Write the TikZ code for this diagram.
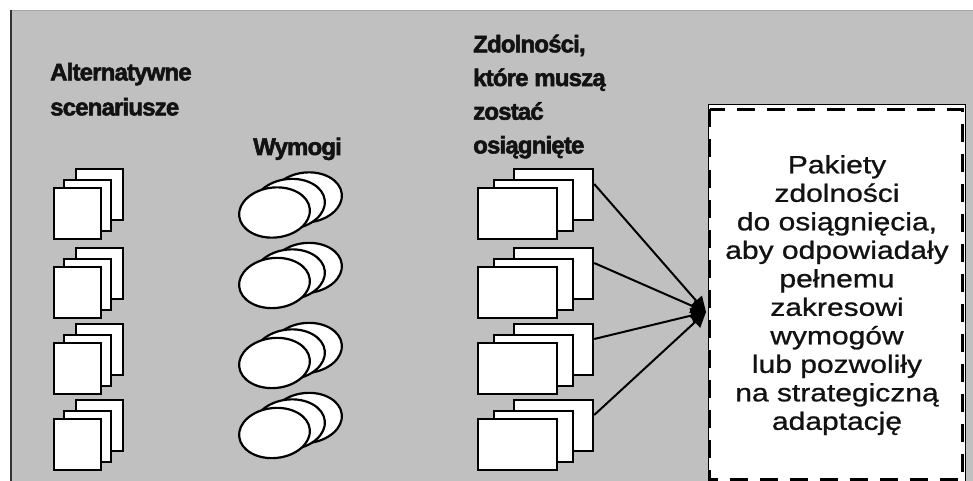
\documentclass[tikz,border=0pt]{standalone}
\usepackage{fontspec}
\setmainfont{Liberation Sans}
\newfontfamily\heavyfont[FakeBold=2.2,LetterSpace=-3.5]{Liberation Sans Bold}
\newfontfamily\boxfont[FakeBold=0.8]{Liberation Sans}
\usetikzlibrary{arrows.meta,shapes.geometric}
\definecolor{bggrey}{HTML}{C0C0C0}
\begin{document}
\begin{tikzpicture}[x=1pt,y=-1pt,
  shp/.style={draw=black, line width=2.2pt, fill=white, inner sep=0pt},
  sq/.style={shp, minimum width=47pt, minimum height=51pt, anchor=north west},
  rc/.style={shp, minimum width=79pt, minimum height=51pt, anchor=north west},
  el/.style={shp, ellipse, minimum width=71pt, minimum height=50pt, rotate=6},
  lbl/.style={font=\fontsize{24}{35}\selectfont\heavyfont, align=left, inner sep=0pt, text=black!93},
  conn/.style={line width=2pt, -{Triangle[length=15pt,width=15pt]}}
]
\useasboundingbox (0,0) rectangle (973,481);
\fill[white] (0,0) rectangle (973,481);
\fill[bggrey] (10,10) rectangle (973,481);
\draw[line width=0.8pt, color=black!35] (10,10.5) -- (973,10.5);
\draw[line width=2pt, color=black!80] (11,10) -- (11,481);

% labels
\node[lbl, anchor=north west] (lalt) at (50,62.8) {Alternatywne\\scenariusze};
\node[lbl, anchor=base west] (lwym) at (253,155) {Wymogi};
\node[lbl, anchor=north west, font=\fontsize{24}{33.7}\selectfont\heavyfont] (lzd) at (473,34.5) {Zdolności,\\które muszą\\zostać\\osiągnięte};

% squares
\foreach \y [count=\i] in {187,266,342,418} {
  \node[sq] (sC\i) at (75,\y-19) {};
  \node[sq] (sB\i) at (63,\y-8) {};
  \node[sq] (sA\i) at (53,\y) {};
}
% ellipses
\foreach \c [count=\i] in {212.5,283,363,433} {
  \node[el] (eC\i) at (306.5,\c-15) {};
  \node[el] (eB\i) at (289.5,\c-8.5) {};
  \node[el] (eA\i) at (274.5,\c) {};
}
% rectangles
\foreach \y [count=\i] in {187,266,342,418} {
  \node[rc] (rC\i) at (513,\y-19) {};
  \node[rc] (rB\i) at (493,\y-8) {};
  \node[rc] (rA\i) at (477,\y) {};
}

% result box
\node[draw=black, line width=0.8pt, fill=white, minimum width=257pt, minimum height=380pt, anchor=north west, inner sep=0pt] (box) at (708,104) {};
\draw[line width=3.5pt, dash pattern=on 18pt off 12pt]
  ([xshift=1.5pt,yshift=-5.5pt]box.north west) rectangle ([xshift=-3.5pt,yshift=5.5pt]box.south east);
\node[font=\fontsize{25}{28.5}\selectfont\boxfont, align=center, inner sep=0pt, xscale=1.2, anchor=north, text=black!93] (boxtext) at (837,155)
  {Pakiety\\zdolności\\do osiągnięcia,\\aby odpowiadały\\pełnemu\\zakresowi\\wymogów\\lub pozwoliły\\na strategiczną\\adaptację};

% connectors
\coordinate (tip) at (706,312);
\foreach \i in {1,2,3,4} {
  \draw[conn] ([yshift=-16pt]rC\i.north east) -- (tip);
}
\end{tikzpicture}
\end{document}
